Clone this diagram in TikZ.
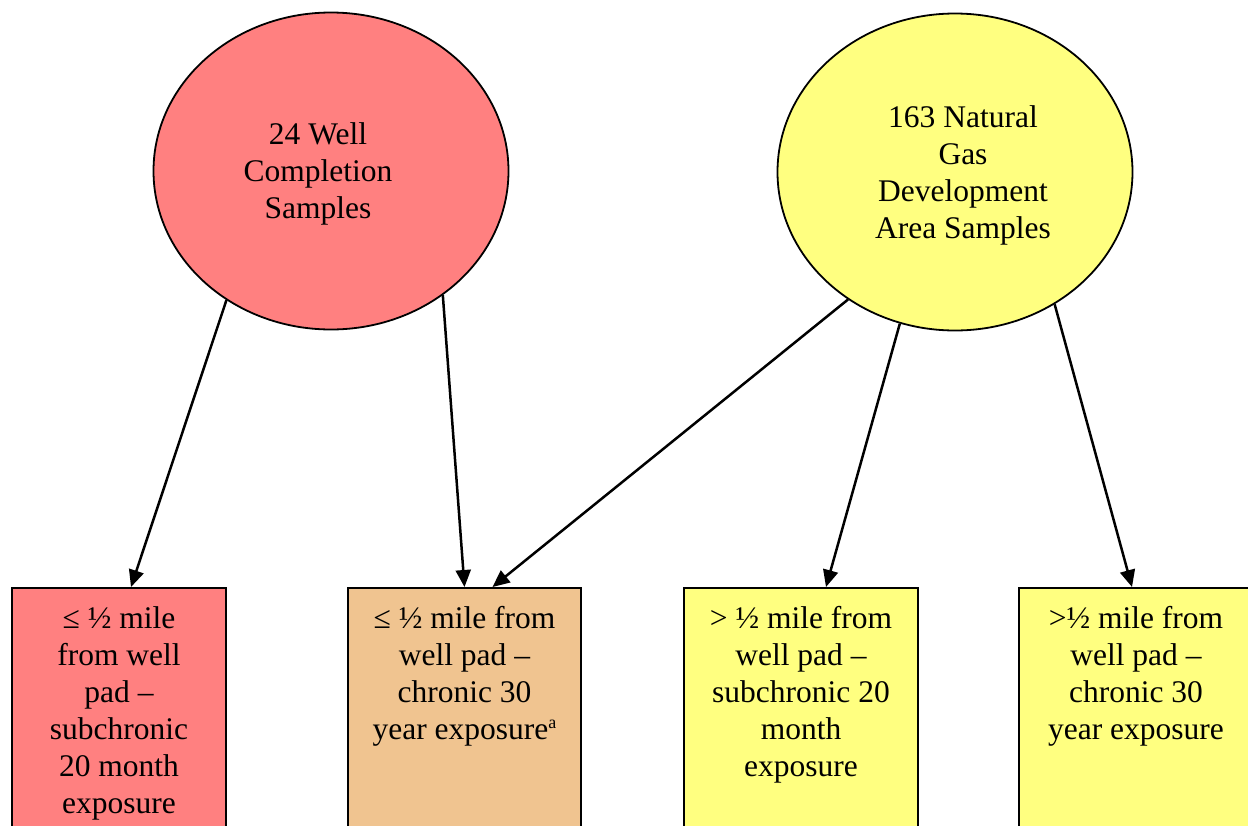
\documentclass[tikz,border=0pt]{standalone}
\usepackage{fontspec}
\setmainfont{Liberation Serif}
\usetikzlibrary{shapes.geometric,arrows.meta}
\definecolor{pinkred}{RGB}{255,128,128}
\definecolor{ctan}{RGB}{240,196,144}
\definecolor{lyellow}{RGB}{255,255,128}
\newcommand{\supa}{\raisebox{11pt}{\fontsize{18}{20}\selectfont a}}
\begin{document}
\begin{tikzpicture}[x=1pt,y=-1pt,
  big/.style={font=\fontsize{31.5}{37}\selectfont},
  oval/.style={ellipse,draw=black,line width=1.8pt,minimum width=355pt,minimum height=317pt,inner sep=0pt},
  ctext/.style={big,align=center,inner sep=0pt},
  boxnode/.style={draw=black,line width=2.2pt,inner sep=0pt,anchor=north,big},
  conn/.style={line width=2.5pt,-{Triangle[length=17pt,width=15pt]}}
]
\useasboundingbox (0,0) rectangle (1248,825);
\clip (0,0) rectangle (1248,825);

\node[oval,fill=pinkred] (L) at (331,171) {};
\node[ctext] (Ltext) at (318,174) {24 Well\\Completion\\Samples};
\node[oval,fill=lyellow] (R) at (955,172) {};
\node[ctext] (Rtext) at (963,175) {163 Natural\\Gas\\Development\\Area Samples};

\node[boxnode,fill=pinkred] (B1) at (119,587) {\parbox[t][260pt][t]{214pt}{\centering\rule{0pt}{40pt}≤ ½ mile\\from well\\pad –\\subchronic\\20 month\\exposure}};
\node[boxnode,fill=ctan] (B2) at (464.5,587) {\parbox[t][260pt][t]{233pt}{\centering\rule{0pt}{40pt}≤ ½ mile from\\well pad –\\chronic 30\\year exposure\supa}};
\node[boxnode,fill=lyellow] (B3) at (801,587) {\parbox[t][260pt][t]{234pt}{\centering\rule{0pt}{40pt}> ½ mile from\\well pad –\\subchronic 20\\month\\exposure}};
\node[boxnode,fill=lyellow] (B4) at (1136,587) {\parbox[t][260pt][t]{234pt}{\centering\rule{0pt}{40pt}>½ mile from\\well pad –\\chronic 30\\year exposure}};

\draw[conn] (L.231.6) -- ([xshift=12pt]B1.north);
\draw[conn] (L.312.6) -- (B2.north);
\draw[conn] (R.230.9) -- ([xshift=28pt]B2.north);
\draw[conn] (R.250.3) -- ([xshift=25pt]B3.north);
\draw[conn] (R.307.4) -- ([xshift=-4pt]B4.north);
\end{tikzpicture}
\end{document}
